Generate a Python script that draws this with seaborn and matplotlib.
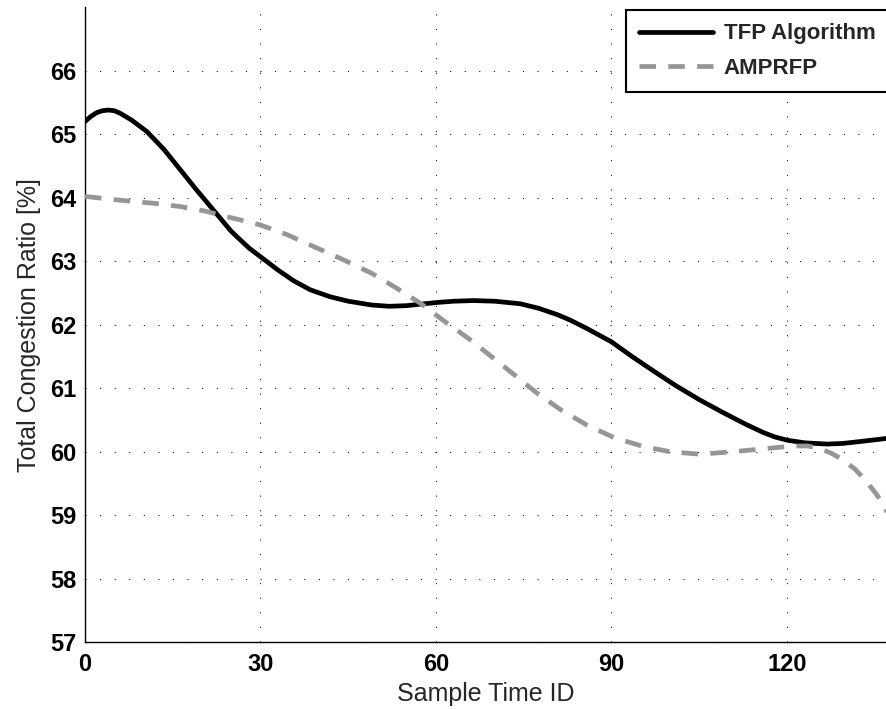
import matplotlib
matplotlib.use("Agg")
import matplotlib.pyplot as plt
import seaborn as sns
import pandas as pd

# ---- data ----
tfp_x = [0, 1, 2, 3, 4, 5, 6, 8, 10.6, 13.5, 16.3, 19, 22, 25, 28, 30, 33, 35.7, 38.5, 41.9,
         45, 49, 52, 55, 58, 60.2, 63, 66.4, 70, 74.4, 77.5, 80.7, 83, 85.8, 90, 93.5, 97.2,
         101, 105, 109, 113, 116, 118, 120.1, 123, 126.8, 129.5, 132.5, 137.1]
tfp_y = [65.20, 65.28, 65.34, 65.37, 65.38, 65.37, 65.33, 65.22, 65.04, 64.76, 64.44, 64.13,
         63.80, 63.47, 63.21, 63.07, 62.86, 62.69, 62.55, 62.44, 62.37, 62.31, 62.29, 62.30,
         62.33, 62.35, 62.37, 62.38, 62.37, 62.33, 62.26, 62.16, 62.07, 61.94, 61.73, 61.50,
         61.27, 61.04, 60.82, 60.62, 60.43, 60.30, 60.23, 60.18, 60.14, 60.12, 60.13, 60.16,
         60.21]

amp_x = [0, 6, 12, 16.3, 20.5, 24.3, 27, 30, 34.5, 39.1, 44, 49, 53, 57.3, 61.5, 65.9, 71.5,
         77.3, 81.5, 85.8, 90.5, 95.5, 100, 105.2, 110.8, 116.5, 121.1, 123.5, 125.7, 127.7,
         129.6, 131.7, 133.6, 135.3, 136.8, 137.1]
amp_y = [64.02, 63.96, 63.91, 63.86, 63.79, 63.70, 63.64, 63.57, 63.42, 63.23, 63.03, 62.81,
         62.59, 62.34, 62.05, 61.76, 61.35, 60.92, 60.65, 60.42, 60.22, 60.08, 60.00, 59.96,
         60.00, 60.05, 60.09, 60.09, 60.05, 59.97, 59.87, 59.72, 59.53, 59.33, 59.11, 59.05]

series_names = ["TFP Algorithm", "AMPRFP"]
x_ticks = [0, 30, 60, 90, 120]
y_ticks = [57, 58, 59, 60, 61, 62, 63, 64, 65, 66]

df_tfp = pd.DataFrame({"x": tfp_x, "y": tfp_y})
df_amp = pd.DataFrame({"x": amp_x, "y": amp_y})

sns.set_style("white")
plt.rcParams["font.family"] = ["Liberation Sans", "DejaVu Sans"]

W, H = 887, 709
fig = plt.figure(figsize=(W / 100, H / 100), dpi=100)
ax_left, ax_bottom_px, ax_top_px = 85, 642.2, 7.2
ax = fig.add_axes([ax_left / W, (H - ax_bottom_px) / H, 1 - ax_left / W,
                   (ax_bottom_px - ax_top_px) / H])

sns.lineplot(data=df_tfp, x="x", y="y", ax=ax, color="black", linewidth=3.4,
             sort=False, label=series_names[0], zorder=3)
sns.lineplot(data=df_amp, x="x", y="y", ax=ax, color="#969696", linewidth=3.4,
             sort=False, label=series_names[1], zorder=3)
lines = ax.get_lines()
lines[0].set_solid_joinstyle("round")
lines[1].set_dashes((3.5, 2.6))
lines[1].set_dash_capstyle("butt")
lines[1].set_dash_joinstyle("round")

ax.set_xlim(0, 137.1)
ax.set_ylim(57, 67)
ax.set_xticks(x_ticks)
ax.set_yticks(y_ticks)
ax.set_xticklabels([str(v) for v in x_ticks], fontsize=17, fontweight="bold")
ax.set_yticklabels([str(v) for v in y_ticks], fontsize=17, fontweight="bold")
ax.tick_params(direction="in", length=5, width=1, colors="black")
ax.tick_params(axis="x", pad=8)
ax.tick_params(axis="y", pad=6)

ax.grid(True, color="black", linestyle=(0, (1, 13)), linewidth=0.75)
ax.set_axisbelow(True)

for s in ["top", "right"]:
    ax.spines[s].set_visible(False)
for s in ["left", "bottom"]:
    ax.spines[s].set_color("black")
    ax.spines[s].set_linewidth(1.0)

ax.set_xlabel("Sample Time ID", fontsize=18, labelpad=4)
ax.set_ylabel("Total Congestion Ratio [%]", fontsize=18, labelpad=7)

leg = ax.legend(handles=lines, labels=series_names, loc="upper left",
                bbox_to_anchor=(626 / W, (H - 10) / H), bbox_transform=fig.transFigure,
                borderaxespad=0, frameon=True, fancybox=False,
                prop={"size": 16, "weight": "bold"}, handlelength=3.3,
                handletextpad=0.5, borderpad=0.6, labelspacing=0.6)
leg.get_frame().set_edgecolor("black")
leg.get_frame().set_linewidth(1.5)
leg.get_frame().set_alpha(1)

fig.savefig("out.png", dpi=100)
